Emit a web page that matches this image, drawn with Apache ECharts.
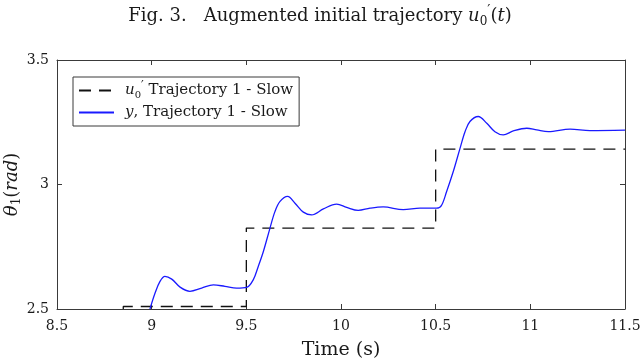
<!DOCTYPE html>
<html>
<head>
<meta charset="utf-8">
<script src="https://cdn.jsdelivr.net/npm/echarts@6/dist/echarts.min.js"></script>
<style>
  html, body { margin: 0; padding: 0; background: #fff; }
  #chart { width: 640px; height: 364px; }
</style>
</head>
<body>
<div id="chart"></div>
<script>
// reference trajectory u'_0 (step-wise, dashed)
var uTime  = [8.85, 8.85, 9.5, 9.5, 10.5, 10.5, 11.5];
var uValue = [2.5, 2.51, 2.51, 2.825, 2.825, 3.142, 3.142];

// measured output y
var yTime = [8.991, 9.018, 9.044, 9.070, 9.106, 9.150, 9.202, 9.264, 9.326, 9.387, 9.449, 9.502,
  9.537, 9.563, 9.590, 9.625, 9.651, 9.678, 9.718, 9.757, 9.801, 9.845, 9.907, 9.977, 10.030,
  10.091, 10.153, 10.223, 10.329, 10.417, 10.505, 10.530, 10.558, 10.593, 10.629, 10.655, 10.681,
  10.725, 10.770, 10.813, 10.857, 10.910, 10.981, 11.034, 11.095, 11.210, 11.315, 11.500];
var yValue = [2.500, 2.564, 2.611, 2.631, 2.620, 2.588, 2.571, 2.584, 2.597, 2.591, 2.584, 2.587,
  2.618, 2.671, 2.731, 2.825, 2.891, 2.932, 2.952, 2.925, 2.889, 2.878, 2.902, 2.921, 2.908,
  2.896, 2.905, 2.910, 2.899, 2.905, 2.905, 2.915, 2.972, 3.052, 3.146, 3.212, 3.253,
  3.273, 3.246, 3.212, 3.199, 3.215, 3.226, 3.219, 3.212, 3.222, 3.216, 3.218];

var xTicks = [8.5, 9, 9.5, 10, 10.5, 11, 11.5];
var yTicks = [2.5, 3, 3.5];

function pairs(a, b) {
  var out = [];
  for (var i = 0; i < a.length; i++) out.push([a[i], b[i]]);
  return out;
}

var serif = 'DejaVu Serif';
var txt = '#1a1a1a';
var axisColor = '#3a3a3a';

var chart = echarts.init(document.getElementById('chart'));
var option = {
  backgroundColor: '#fff',
  animation: false,
  title: {
    text: 'Fig. 3.   Augmented initial trajectory {i|u}{sub|0}{sup|′}({i|t})',
    left: 'center',
    top: -1,
    textStyle: {
      fontFamily: serif,
      fontSize: 18,
      fontWeight: 'normal',
      color: txt,
      lineHeight: 24,
      rich: {
        i: { fontFamily: serif, fontStyle: 'italic', fontSize: 18, color: txt },
        sub: { fontFamily: serif, fontSize: 12, color: txt, verticalAlign: 'bottom', lineHeight: 24 },
        sup: { fontFamily: serif, fontSize: 14, color: txt, verticalAlign: 'top', lineHeight: 24 }
      }
    }
  },
  legend: {
    orient: 'vertical',
    left: 73,
    top: 77,
    padding: [4, 6, 4, 5],
    itemGap: 3,
    itemWidth: 35,
    itemHeight: 14,
    borderColor: axisColor,
    borderWidth: 1,
    borderRadius: 0,
    backgroundColor: '#fff',
    itemStyle: { opacity: 0, borderWidth: 0 },
    data: ['u0', 'y'],
    formatter: function (name) {
      if (name === 'u0') return '{i|u}{sub|0}{sup|′} Trajectory 1 - Slow';
      return '{i|y}, Trajectory 1 - Slow';
    },
    textStyle: {
      fontFamily: serif,
      fontSize: 15,
      color: txt,
      lineHeight: 19,
      rich: {
        i: { fontFamily: serif, fontStyle: 'italic', fontSize: 15, color: txt, padding: [0, 0, 0, 6] },
        sub: { fontFamily: serif, fontSize: 10, color: txt, verticalAlign: 'bottom', lineHeight: 19 },
        sup: { fontFamily: serif, fontSize: 12, color: txt, verticalAlign: 'top', lineHeight: 19 }
      }
    }
  },
  grid: { left: 57, right: 15, top: 60, bottom: 55, outerBoundsMode: 'none' },
  xAxis: [
    {
      type: 'value',
      min: xTicks[0],
      max: xTicks[xTicks.length - 1],
      interval: 0.5,
      name: 'Time (s)',
      nameLocation: 'middle',
      nameGap: 32,
      nameTextStyle: { fontFamily: serif, fontSize: 19, color: txt },
      axisLine: { lineStyle: { color: axisColor, width: 1 } },
      axisTick: { inside: true, length: 5, lineStyle: { color: axisColor } },
      axisLabel: { fontFamily: serif, fontSize: 14, color: txt, margin: 10 },
      splitLine: { show: false }
    },
    {
      type: 'value',
      position: 'top',
      min: xTicks[0],
      max: xTicks[xTicks.length - 1],
      interval: 0.5,
      axisLine: { show: true, lineStyle: { color: axisColor, width: 1 } },
      axisTick: { inside: true, length: 5, lineStyle: { color: axisColor } },
      axisLabel: { show: false },
      splitLine: { show: false }
    }
  ],
  yAxis: [
    {
      type: 'value',
      min: yTicks[0],
      max: yTicks[yTicks.length - 1],
      interval: 0.5,
      name: '{i|θ}{sub|1}({i|rad})',
      nameLocation: 'middle',
      nameGap: 34,
      nameMoveOverlap: false,
      nameTextStyle: {
        fontFamily: serif,
        fontSize: 18,
        color: txt,
        rich: {
          i: { fontFamily: serif, fontStyle: 'italic', fontSize: 18, color: txt },
          sub: { fontFamily: serif, fontSize: 12, color: txt, verticalAlign: 'bottom', lineHeight: 22 }
        }
      },
      axisLine: { show: true, lineStyle: { color: axisColor, width: 1 } },
      axisTick: { inside: true, length: 5, lineStyle: { color: axisColor } },
      axisLabel: { fontFamily: serif, fontSize: 14, color: txt, margin: 8 },
      splitLine: { show: false }
    },
    {
      type: 'value',
      position: 'right',
      min: yTicks[0],
      max: yTicks[yTicks.length - 1],
      interval: 0.5,
      axisLine: { show: true, lineStyle: { color: axisColor, width: 1 } },
      axisTick: { inside: true, length: 5, lineStyle: { color: axisColor } },
      axisLabel: { show: false },
      splitLine: { show: false }
    }
  ],
  series: [
    {
      name: 'u0',
      type: 'line',
      data: pairs(uTime, uValue),
      symbol: 'none',
      lineStyle: { color: '#111', width: 1.3, type: [12, 8] },
      itemStyle: { color: '#111' },
      z: 3
    },
    {
      name: 'y',
      type: 'line',
      data: pairs(yTime, yValue),
      symbol: 'none',
      smooth: 0.35,
      lineStyle: { color: '#1a1aff', width: 1.3 },
      itemStyle: { color: '#1a1aff' },
      z: 4
    }
  ]
};
chart.setOption(option);
</script>
</body>
</html>
